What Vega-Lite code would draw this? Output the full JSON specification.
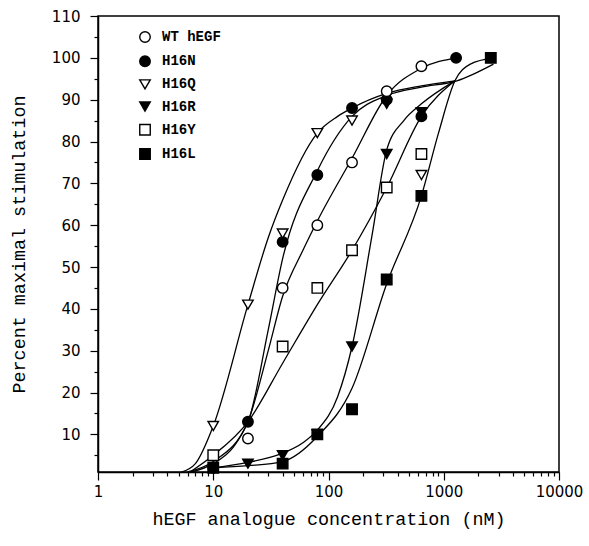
{
  "$schema": "https://vega.github.io/schema/vega-lite/v6.json",
  "width": 461,
  "height": 456,
  "autosize": {"type": "none"},
  "padding": {"left": 98, "top": 16, "right": 30, "bottom": 74},
  "background": "white",
  "config": {
    "view": {"stroke": "black", "strokeWidth": 1.5},
    "axis": {
      "domainColor": "black", "domainWidth": 1.5, "tickColor": "black", "tickWidth": 1.2,
      "grid": false, "labelColor": "black", "titleColor": "black",
      "labelFont": "DejaVu Sans", "labelFontSize": 15,
      "titleFont": "Liberation Mono", "titleFontSize": 18.4, "titleFontWeight": "normal"
    }
  },
  "resolve": {"scale": {"x": "independent", "y": "independent"}, "axis": {"x": "independent", "y": "independent"}},
  "datasets": {
    "points": [
      {"s": "WT hEGF", "x": 20, "y": 9}, {"s": "WT hEGF", "x": 40, "y": 45}, {"s": "WT hEGF", "x": 80, "y": 60},
      {"s": "WT hEGF", "x": 160, "y": 75}, {"s": "WT hEGF", "x": 320, "y": 92}, {"s": "WT hEGF", "x": 640, "y": 98},
      {"s": "H16Q", "x": 10, "y": 12}, {"s": "H16Q", "x": 20, "y": 41}, {"s": "H16Q", "x": 40, "y": 58},
      {"s": "H16Q", "x": 80, "y": 82}, {"s": "H16Q", "x": 160, "y": 85}, {"s": "H16Q", "x": 640, "y": 72},
      {"s": "H16Y", "x": 10, "y": 5}, {"s": "H16Y", "x": 40, "y": 31}, {"s": "H16Y", "x": 80, "y": 45},
      {"s": "H16Y", "x": 160, "y": 54}, {"s": "H16Y", "x": 320, "y": 69}, {"s": "H16Y", "x": 640, "y": 77},
      {"s": "H16N", "x": 10, "y": 2}, {"s": "H16N", "x": 20, "y": 13}, {"s": "H16N", "x": 40, "y": 56},
      {"s": "H16N", "x": 80, "y": 72}, {"s": "H16N", "x": 160, "y": 88}, {"s": "H16N", "x": 320, "y": 90},
      {"s": "H16N", "x": 640, "y": 86}, {"s": "H16N", "x": 1280, "y": 100},
      {"s": "H16R", "x": 20, "y": 3}, {"s": "H16R", "x": 40, "y": 5}, {"s": "H16R", "x": 80, "y": 10},
      {"s": "H16R", "x": 160, "y": 31}, {"s": "H16R", "x": 320, "y": 77}, {"s": "H16R", "x": 320, "y": 89},
      {"s": "H16R", "x": 640, "y": 87},
      {"s": "H16L", "x": 10, "y": 2}, {"s": "H16L", "x": 40, "y": 3}, {"s": "H16L", "x": 80, "y": 10},
      {"s": "H16L", "x": 160, "y": 16}, {"s": "H16L", "x": 320, "y": 47}, {"s": "H16L", "x": 640, "y": 67},
      {"s": "H16L", "x": 2560, "y": 100}
    ],
    "curves": [
      {"s": "WT hEGF", "x": 6.5, "y": 1}, {"s": "WT hEGF", "x": 10, "y": 3}, {"s": "WT hEGF", "x": 15, "y": 7},
      {"s": "WT hEGF", "x": 20, "y": 13}, {"s": "WT hEGF", "x": 30, "y": 30}, {"s": "WT hEGF", "x": 40, "y": 43},
      {"s": "WT hEGF", "x": 60, "y": 54}, {"s": "WT hEGF", "x": 80, "y": 61}, {"s": "WT hEGF", "x": 160, "y": 76},
      {"s": "WT hEGF", "x": 320, "y": 91}, {"s": "WT hEGF", "x": 640, "y": 97.5}, {"s": "WT hEGF", "x": 1300, "y": 100},
      {"s": "H16N", "x": 6, "y": 1}, {"s": "H16N", "x": 10, "y": 3.5}, {"s": "H16N", "x": 20, "y": 13},
      {"s": "H16N", "x": 30, "y": 35}, {"s": "H16N", "x": 40, "y": 52}, {"s": "H16N", "x": 80, "y": 73},
      {"s": "H16N", "x": 160, "y": 86}, {"s": "H16N", "x": 320, "y": 91}, {"s": "H16N", "x": 640, "y": 93},
      {"s": "H16N", "x": 1300, "y": 94.5}, {"s": "H16N", "x": 2700, "y": 98.5},
      {"s": "H16Q", "x": 5.3, "y": 1}, {"s": "H16Q", "x": 7, "y": 3}, {"s": "H16Q", "x": 10, "y": 12},
      {"s": "H16Q", "x": 20, "y": 41}, {"s": "H16Q", "x": 30, "y": 57}, {"s": "H16Q", "x": 40, "y": 66},
      {"s": "H16Q", "x": 80, "y": 82}, {"s": "H16Q", "x": 120, "y": 86}, {"s": "H16Q", "x": 160, "y": 88},
      {"s": "H16Q", "x": 320, "y": 91.5}, {"s": "H16Q", "x": 640, "y": 93.3}, {"s": "H16Q", "x": 1250, "y": 94.5},
      {"s": "H16R", "x": 10, "y": 2}, {"s": "H16R", "x": 20, "y": 3.3}, {"s": "H16R", "x": 40, "y": 5.5},
      {"s": "H16R", "x": 60, "y": 8}, {"s": "H16R", "x": 80, "y": 11}, {"s": "H16R", "x": 120, "y": 19},
      {"s": "H16R", "x": 160, "y": 31}, {"s": "H16R", "x": 240, "y": 58}, {"s": "H16R", "x": 320, "y": 78},
      {"s": "H16R", "x": 450, "y": 85}, {"s": "H16R", "x": 640, "y": 89}, {"s": "H16R", "x": 1250, "y": 94.5},
      {"s": "H16Y", "x": 6.3, "y": 1}, {"s": "H16Y", "x": 10, "y": 5}, {"s": "H16Y", "x": 20, "y": 13},
      {"s": "H16Y", "x": 40, "y": 27}, {"s": "H16Y", "x": 80, "y": 41}, {"s": "H16Y", "x": 160, "y": 54},
      {"s": "H16Y", "x": 320, "y": 69}, {"s": "H16Y", "x": 640, "y": 86}, {"s": "H16Y", "x": 1250, "y": 94.5},
      {"s": "H16L", "x": 10, "y": 2}, {"s": "H16L", "x": 20, "y": 2.5}, {"s": "H16L", "x": 40, "y": 3.5},
      {"s": "H16L", "x": 80, "y": 9.5}, {"s": "H16L", "x": 160, "y": 21}, {"s": "H16L", "x": 320, "y": 46},
      {"s": "H16L", "x": 640, "y": 67}, {"s": "H16L", "x": 900, "y": 82}, {"s": "H16L", "x": 1250, "y": 94.5},
      {"s": "H16L", "x": 1700, "y": 98.5}, {"s": "H16L", "x": 2700, "y": 100}
    ]
  },
  "layer": [
    {
      "data": {"name": "curves"},
      "mark": {"type": "line", "interpolate": "monotone", "color": "black", "strokeWidth": 1.3},
      "encoding": {
        "x": {
          "field": "x", "type": "quantitative",
          "scale": {"type": "log", "domain": [1, 10000], "nice": false},
          "axis": {
            "orient": "bottom",
            "title": "hEGF analogue concentration (nM)",
            "values": [1, 10, 100, 1000, 10000],
            "format": "d",
            "labelOverlap": false,
            "labelPadding": 4,
            "labelFlush": false,
            "tickSize": 8,
            "titlePadding": 10
          }
        },
        "y": {
          "field": "y", "type": "quantitative",
          "scale": {"domain": [1, 110], "nice": false, "zero": false},
          "axis": {
            "orient": "left",
            "title": "Percent maximal stimulation",
            "values": [10, 20, 30, 40, 50, 60, 70, 80, 90, 100, 110],
            "labelOverlap": false,
            "labelPadding": 10,
            "labelFlush": false,
            "tickSize": 8,
            "titlePadding": 23
          }
        },
        "detail": {"field": "s", "type": "nominal"}
      }
    },
    {
      "data": {"name": "points"},
      "mark": {"type": "point", "filled": true, "stroke": "black", "strokeWidth": 1.4, "opacity": 1, "size": 110},
      "encoding": {
        "x": {
          "field": "x", "type": "quantitative",
          "scale": {"type": "log", "domain": [1, 10000], "nice": false},
          "axis": {
            "orient": "bottom", "title": null, "labels": false, "domain": false, "tickSize": 4, "tickColor": "black", "tickWidth": 1.2,
            "values": [2,3,4,5,6,7,8,9,20,30,40,50,60,70,80,90,200,300,400,500,600,700,800,900,2000,3000,4000,5000,6000,7000,8000,9000]
          }
        },
        "y": {
          "field": "y", "type": "quantitative",
          "scale": {"domain": [1, 110], "nice": false, "zero": false},
          "axis": {
            "orient": "left", "title": null, "labels": false, "domain": false, "tickSize": 4, "tickColor": "black", "tickWidth": 1.2,
            "values": [5, 15, 25, 35, 45, 55, 65, 75, 85, 95, 105]
          }
        },
        "shape": {
          "field": "s", "type": "nominal",
          "scale": {"domain": ["WT hEGF","H16N","H16Q","H16R","H16Y","H16L"], "range": ["circle","circle","triangle-down","triangle-down","square","square"]},
          "legend": {
            "title": null, "orient": "none", "legendX": 40, "legendY": 14, "padding": 0,
            "labelFont": "Liberation Mono", "labelFontSize": 14, "labelFontWeight": "bold", "labelColor": "black",
            "labelOffset": 10, "rowPadding": 6.2, "symbolSize": 110, "symbolStrokeWidth": 1.4,
            "encode": {"symbols": {"update": {
              "stroke": {"value": "black"},
              "strokeWidth": {"value": 1.4},
              "opacity": {"value": 1},
              "fill": {"signal": "(datum.value == 'H16N' || datum.value == 'H16R' || datum.value == 'H16L') ? 'black' : 'white'"}
            }}}
          }
        },
        "fill": {
          "field": "s", "type": "nominal",
          "scale": {"domain": ["WT hEGF","H16N","H16Q","H16R","H16Y","H16L"], "range": ["white","black","white","black","white","black"]},
          "legend": null
        },
        "order": {"field": "y", "type": "quantitative"}
      }
    }
  ]
}
